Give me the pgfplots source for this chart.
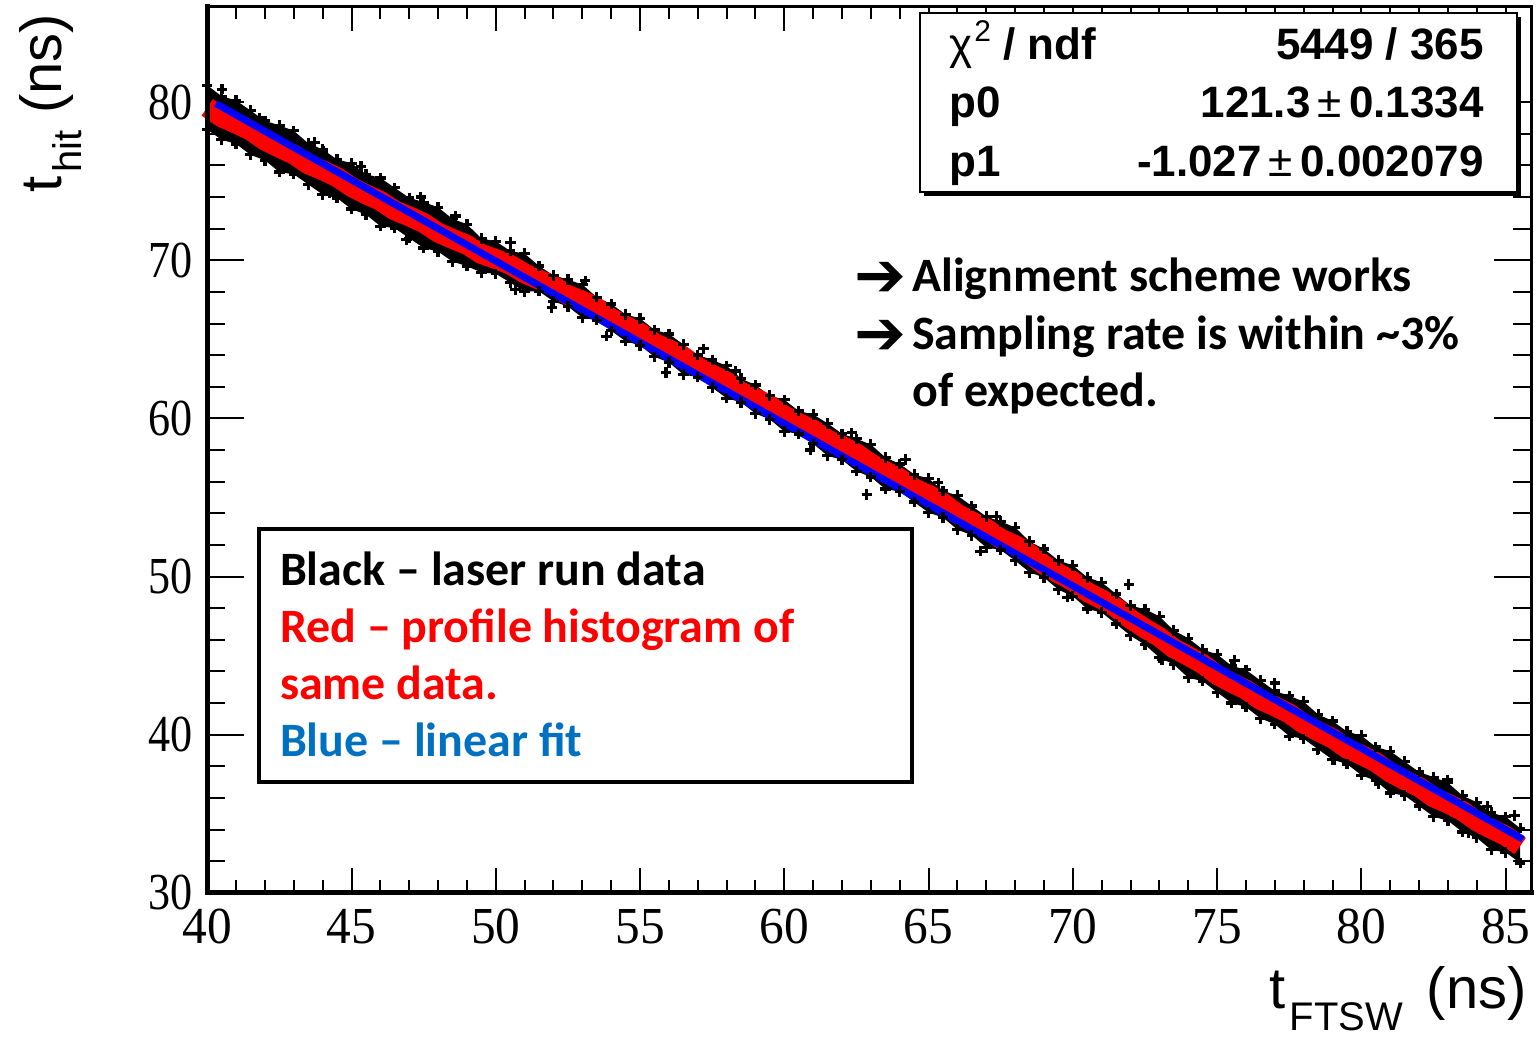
\documentclass[border=0pt]{standalone}
\usepackage{fontspec}
\usepackage{pgfplots}
\usepackage{pgfplotstable}
\pgfplotsset{compat=1.18}
\usepgfplotslibrary{fillbetween}
\setmainfont{Liberation Serif}
\newfontfamily\xtf[FakeStretch=0.95]{Liberation Serif}
\newfontfamily\ytf[FakeStretch=0.85]{Liberation Serif}
\newfontfamily\helv{Liberation Sans}
\newfontfamily\calib{Carlito}
\newfontfamily\dvs{DejaVu Sans}
\definecolor{lblue}{RGB}{0,112,192}

\pgfplotstableread{
x U L R
40.0 81.07 78.27 79.67
40.5 80.37 77.62 79.04
41.0 80.11 77.36 78.64
41.5 79.47 76.67 78.20
42.0 78.82 76.32 77.57
42.5 78.53 75.58 77.11
43.0 78.19 75.44 76.69
43.5 77.40 74.80 76.07
44.0 77.01 74.16 75.69
44.5 76.38 73.93 75.26
45.0 76.14 73.24 74.64
45.5 75.44 72.89 74.17
46.0 75.21 72.16 73.76
46.5 74.58 72.03 73.15
47.0 73.95 71.40 72.78
47.5 73.68 70.78 72.36
48.0 73.35 70.55 71.75
48.5 72.62 69.92 71.35
49.0 72.28 69.63 70.98
49.5 71.38 69.23 70.40
50.0 71.20 69.15 70.08
50.5 70.59 68.59 69.72
51.0 70.42 68.02 69.17
51.5 69.64 68.04 68.77
52.0 69.05 67.40 68.40
52.5 68.78 67.08 67.80
53.0 68.47 66.37 67.45
53.5 67.66 66.21 66.99
54.0 67.24 65.54 66.34
54.5 66.58 64.88 65.86
55.0 66.32 64.62 65.42
55.5 65.60 63.90 64.77
56.0 65.34 63.54 64.37
56.5 64.68 62.78 63.91
57.0 64.01 62.61 63.26
57.5 63.70 61.95 62.78
58.0 63.33 61.28 62.33
58.5 62.52 61.02 61.69
59.0 62.11 60.31 61.29
59.5 61.44 59.94 60.82
60.0 61.18 59.18 60.18
60.5 60.47 59.02 59.70
61.0 60.25 58.40 59.30
61.5 59.69 57.64 58.66
62.0 59.03 57.38 58.26
62.5 58.71 56.66 57.79
63.0 58.35 56.30 57.15
63.5 57.54 55.54 56.67
64.0 57.12 55.37 56.22
64.5 56.46 54.71 55.58
65.0 56.20 54.05 55.18
65.5 55.43 53.73 54.66
66.0 55.12 52.97 53.97
66.5 54.46 52.61 53.49
67.0 53.79 51.84 53.04
67.5 53.48 51.68 52.40
68.0 53.11 51.01 51.99
68.5 52.22 50.27 51.45
69.0 51.74 49.94 50.74
69.5 51.02 49.17 50.20
70.0 50.71 48.76 49.71
70.5 49.95 47.95 49.02
71.0 49.63 47.73 48.56
71.5 48.90 47.00 48.03
72.0 48.16 46.26 47.31
72.5 47.94 45.69 46.72
73.0 47.48 44.88 46.18
73.5 46.59 44.44 45.46
74.0 46.10 43.60 44.98
74.5 45.39 43.39 44.47
75.0 45.08 42.68 43.78
75.5 44.36 42.01 43.29
76.0 44.10 41.75 42.85
76.5 43.43 41.03 42.20
77.0 42.77 40.67 41.80
77.5 42.46 39.91 41.34
78.0 42.09 39.74 40.69
78.5 41.28 39.08 40.21
79.0 40.87 38.42 39.77
79.5 40.20 38.15 39.12
80.0 39.94 37.44 38.72
80.5 39.23 37.08 38.26
81.0 38.96 36.31 37.61
81.5 38.30 36.15 37.13
82.0 37.64 35.49 36.69
82.5 37.32 34.82 36.04
83.0 36.96 34.56 35.64
83.5 36.15 33.85 35.18
84.0 35.73 33.48 34.53
84.5 35.07 32.72 34.05
85.0 34.81 32.56 33.61
85.5 34.09 31.89 32.96
}\band

\pgfplotstableread{
x y
40.51 80.82
41.80 79.00
43.72 77.45
44.01 76.91
45.33 75.92
44.24 74.28
46.90 71.30
47.40 74.00
48.61 72.80
50.51 71.12
50.68 68.16
51.94 67.00
53.10 68.70
53.84 65.20
55.90 62.90
57.20 64.40
58.32 63.00
60.90 58.00
62.34 59.09
62.86 55.19
64.20 57.40
65.33 55.93
66.80 51.60
67.34 53.82
69.80 48.70
71.94 49.49
73.09 44.75
75.60 44.70
77.00 43.27
78.48 39.05
79.07 38.42
80.60 36.90
82.98 37.15
83.70 33.80
84.36 35.46
85.30 34.90
}\outl

\begin{document}
\begin{tikzpicture}
\begin{scope}[shift={(-103.75pt,447pt)}, x=0.5pt, y=-0.5pt]
\path[use as bounding box] (0,0) rectangle (1537,1038);
\end{scope}
\begin{axis}[
  at={(0,0)}, anchor=south west,
  scale only axis, width=662.75pt, height=443.75pt,
  xmin=40, xmax=85.88, ymin=30, ymax=86.05,
  clip=false,
  axis line style={line width=1.5pt},
  xtick={40,45,...,85}, ytick={30,40,...,80},
  minor x tick num=4, minor y tick num=4,
  tick align=inside,
  tick style={line width=1pt, black},
  xtick style={/pgfplots/major tick length=12.5pt,/pgfplots/minor tick length=6.5pt},
  ytick style={/pgfplots/major tick length=18.5pt,/pgfplots/minor tick length=9pt},
  /pgf/number format/assume math mode=true,
  xticklabel style={font=\xtf\fontsize{26}{26}\selectfont, anchor=base, yshift=-25.5pt},
  yticklabel style={font=\ytf\fontsize{26}{26}\selectfont, anchor=east, inner sep=0pt, xshift=-7.25pt},
]
\addplot[name path=U, draw=none, forget plot] table[x=x,y=U]{\band};
\addplot[name path=L, draw=none, forget plot] table[x=x,y=L]{\band};
\addplot[black, forget plot] fill between[of=U and L];
\addplot[only marks, mark=+, mark size=2.6pt, line width=1.6pt, black] table[x=x,y=U]{\band};
\addplot[only marks, mark=+, mark size=2.6pt, line width=1.6pt, black] table[x=x,y=L]{\band};
\addplot[only marks, mark=+, mark size=2.6pt, line width=1.6pt, black] table[x=x,y=y]{\outl};
\addplot[red, line width=10pt, line join=round] table[x=x,y=R]{\band};
\addplot[blue, line width=3.5pt] coordinates {(40.3,79.91) (85.6,33.39)};
\end{axis}
\begin{scope}[shift={(-103.75pt,447pt)}, x=0.5pt, y=-0.5pt]
\draw[line width=2.5pt, line cap=rect] (207.5,6.5) -- (207.5,894) -- (1533,894);
% axis titles
\node[anchor=base east, inner sep=0pt, font=\helv\fontsize{29}{29}\selectfont] at (1529,1010)
  {t\kern2pt\raisebox{-11pt}{\fontsize{20}{20}\selectfont FTSW}\kern4pt\ (ns)};
\node[anchor=base west, rotate=90, inner sep=0pt, font=\helv\fontsize{29}{29}\selectfont] at (62,193)
  {t\kern2pt\raisebox{-10pt}{\fontsize{20}{20}\selectfont hit}\ (ns)};
% stats box
\fill[black] (925,17) rectangle (1523,196);
\filldraw[fill=white, draw=black, line width=1pt] (921,13) rectangle (1519,192);
\node[anchor=base west, inner sep=0pt, font=\helv\fontsize{22}{22}\selectfont] at (950,60)
  {χ\kern1pt\raisebox{9pt}{\fontsize{15}{15}\selectfont 2}\ \bfseries / ndf};
\node[anchor=base east, inner sep=0pt, font=\helv\bfseries\fontsize{22}{22}\selectfont] at (1486,60) {5449 / 365};
\node[anchor=base west, inner sep=0pt, font=\helv\bfseries\fontsize{22}{22}\selectfont] at (950,118) {p0};
\node[anchor=base east, inner sep=0pt, font=\helv\bfseries\fontsize{22}{22}\selectfont] at (1486,118) {121.3\,{\mdseries ±}\,0.1334};
\node[anchor=base west, inner sep=0pt, font=\helv\bfseries\fontsize{22}{22}\selectfont] at (950,177) {p1};
\node[anchor=base east, inner sep=0pt, font=\helv\bfseries\fontsize{22}{22}\selectfont] at (1486,177) {-1.027\,{\mdseries ±}\,0.002079};
% annotations
\node[anchor=base west, inner sep=0pt, font=\dvs\bfseries\fontsize{31}{31}\selectfont] at (855,297) {➔};
\node[anchor=base west, inner sep=0pt, font=\dvs\bfseries\fontsize{31}{31}\selectfont] at (855,355) {➔};
\node[anchor=base west, inner sep=0pt, font=\calib\bfseries\fontsize{24}{24}\selectfont] at (913,292) {Alignment scheme works};
\node[anchor=base west, inner sep=0pt, font=\calib\bfseries\fontsize{24}{24}\selectfont] at (913,350) {Sampling rate is within \textasciitilde3\%};
\node[anchor=base west, inner sep=0pt, font=\calib\bfseries\fontsize{24}{24}\selectfont] at (913,407) {of expected.};
% legend box
\filldraw[fill=white, draw=black, line width=2pt] (259,530) rectangle (913,783);
\node[anchor=base west, inner sep=0pt, font=\calib\bfseries\fontsize{24}{24}\selectfont] at (280,586) {Black – laser run data};
\node[anchor=base west, inner sep=0pt, text=red, font=\calib\bfseries\fontsize{24}{24}\selectfont] at (280,643) {Red – profile histogram of};
\node[anchor=base west, inner sep=0pt, text=red, font=\calib\bfseries\fontsize{24}{24}\selectfont] at (280,700) {same data.};
\node[anchor=base west, inner sep=0pt, text=lblue, font=\calib\bfseries\fontsize{24}{24}\selectfont] at (280,757) {Blue – linear fit};
\end{scope}
\end{tikzpicture}
\end{document}
